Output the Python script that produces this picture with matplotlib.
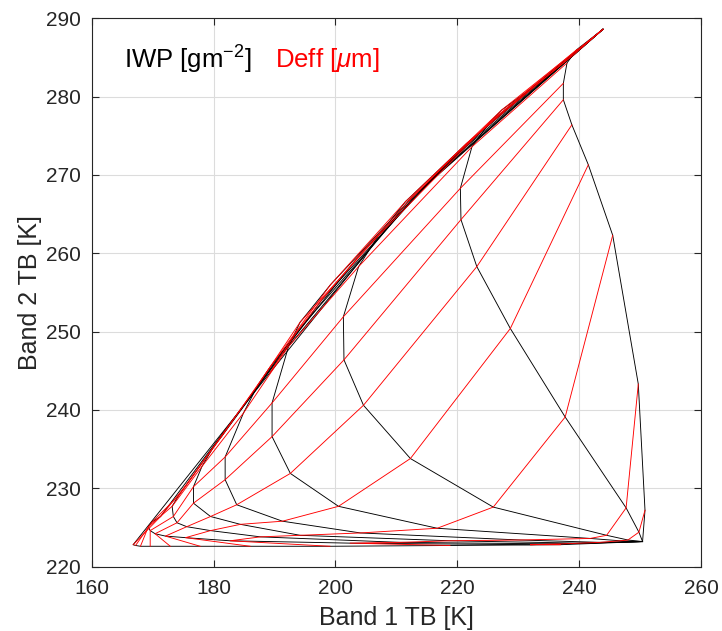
import numpy as np
import matplotlib.pyplot as plt

# lookup table: rows = constant IWP (black), columns = constant Deff (red)
# first column is the common clear-sky point
band1_tb = [
    [243.9, 243.9, 243.9, 243.9, 239.6, 238.0, 237.4, 237.4, 238.8, 241.5, 245.5, 249.7, 250.8, 250.4],
    [243.9, 238.9, 233.3, 227.3, 225.4, 222.4, 220.5, 220.6, 223.2, 228.7, 237.7, 247.7, 249.8, 250.4],
    [243.9, 232.6, 221.5, 211.5, 207.0, 203.8, 201.3, 201.4, 204.6, 212.3, 225.9, 244.5, 248.0, 250.4],
    [243.9, 226.9, 212.3, 199.2, 194.2, 192.3, 189.6, 189.6, 192.6, 200.5, 216.7, 241.8, 246.7, 250.4],
    [243.9, 221.9, 204.1, 189.3, 187.3, 184.9, 181.9, 181.9, 183.8, 191.3, 204.1, 230.3, 243.4, 250.4],
    [243.9, 218.0, 197.7, 181.4, 180.0, 178.1, 176.7, 176.7, 179.5, 184.4, 194.2, 218.8, 240.2, 250.4],
    [243.9, 215.3, 193.6, 175.4, 174.2, 173.2, 173.4, 174.0, 175.6, 179.5, 187.7, 210.6, 236.9, 250.4],
    [243.9, 213.6, 191.2, 171.3, 169.9, 169.3, 169.6, 170.4, 172.1, 175.4, 182.7, 202.4, 232.0, 250.4],
    [243.9, 212.0, 189.2, 166.8, 167.2, 168.0, 169.6, 172.9, 177.8, 186.0, 199.1, 218.8, 236.9, 250.4],
]
band2_tb = [
    [288.6, 288.6, 288.6, 288.6, 286.0, 284.3, 281.7, 279.6, 276.4, 271.3, 262.3, 243.3, 227.2, 223.2],
    [288.6, 285.2, 281.7, 278.3, 276.8, 273.6, 268.3, 264.3, 258.3, 250.4, 239.1, 227.5, 224.4, 223.2],
    [288.6, 281.3, 274.0, 266.6, 262.2, 258.3, 251.9, 246.4, 240.6, 233.8, 227.6, 224.0, 223.4, 223.2],
    [288.6, 277.7, 266.9, 256.0, 251.2, 248.1, 240.9, 236.6, 231.9, 227.7, 224.9, 223.6, 223.3, 223.2],
    [288.6, 274.2, 259.9, 245.5, 243.2, 239.6, 234.0, 231.1, 227.9, 225.8, 224.3, 223.4, 223.1, 223.2],
    [288.6, 271.3, 254.0, 236.7, 235.3, 232.8, 230.2, 228.1, 226.4, 225.4, 224.0, 223.3, 223.0, 223.2],
    [288.6, 269.2, 249.9, 230.3, 229.0, 227.7, 226.4, 225.6, 225.1, 224.6, 223.8, 223.1, 222.9, 223.2],
    [288.6, 267.9, 247.1, 226.4, 225.7, 225.1, 224.6, 224.2, 223.9, 223.7, 223.3, 223.0, 222.8, 223.2],
    [288.6, 266.7, 244.7, 222.8, 222.7, 222.6, 222.6, 222.6, 222.6, 222.6, 222.6, 222.7, 222.8, 223.2],
]

plt.rcParams['font.family'] = ['Liberation Sans', 'DejaVu Sans']
plt.rcParams['mathtext.fontset'] = 'custom'
plt.rcParams['mathtext.rm'] = 'Liberation Sans'
plt.rcParams['mathtext.it'] = 'Liberation Sans:italic'

tb1 = np.array(band1_tb)
tb2 = np.array(band2_tb)

fig = plt.figure(figsize=(7.22, 6.31), dpi=100)
ax = fig.add_axes([0.127, 0.102, 0.844, 0.869])

# constant IWP lines
for i in range(tb1.shape[0]):
    ax.plot(tb1[i], tb2[i], color='k', lw=0.65)
# constant Deff lines
for j in range(tb1.shape[1]):
    ax.plot(tb1[:, j], tb2[:, j], color='r', lw=0.65)

ax.set_xlim(160, 260)
ax.set_ylim(220, 290)
ax.set_xticks(np.arange(160, 261, 20))
ax.set_yticks(np.arange(220, 291, 10))
ax.grid(True, color='#dcdcdc', lw=0.8)
ax.set_axisbelow(True)
ax.tick_params(direction='in', top=True, right=True, labelsize=15, length=5,
               color='#262626', labelcolor='#262626')
ax.tick_params(axis='x', pad=9)
ax.tick_params(axis='y', pad=8)
for s in ax.spines.values():
    s.set_color('#262626')
    s.set_linewidth(0.8)

ax.set_xlabel('Band 1 TB [K]', fontsize=18, color='#262626', labelpad=6)
ax.set_ylabel('Band 2 TB [K]', fontsize=18, color='#262626', labelpad=3)

ax.text(165.3, 284.7, 'IWP [gm$^{-2}$]', fontsize=18.5, color='k', va='center')
ax.text(190.0, 284.7, 'Deff [$\\mu$m]', fontsize=18.5, color='r', va='center')

fig.savefig('out.png', dpi=100)
